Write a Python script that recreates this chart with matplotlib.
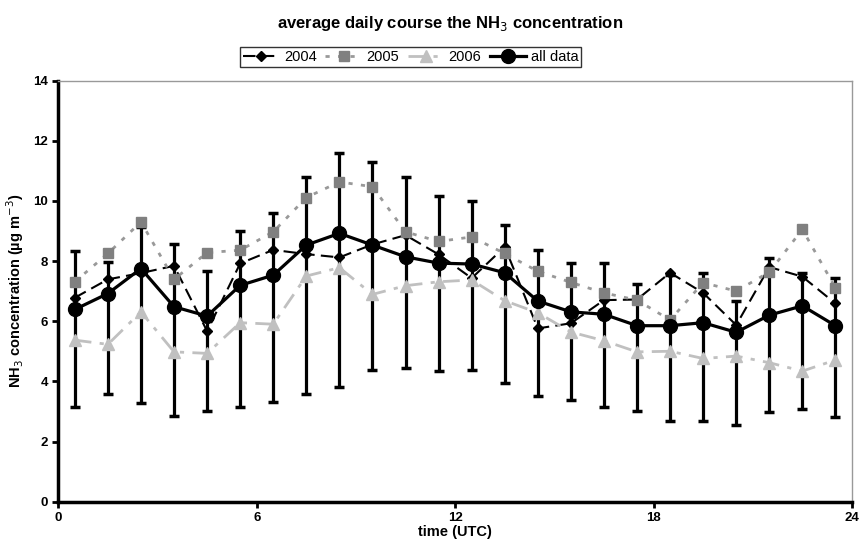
import matplotlib.pyplot as plt
import numpy as np

plt.rcParams['font.family'] = ['Liberation Sans', 'DejaVu Sans']

# hour of day (centre of each hourly bin)
hours = np.arange(24) + 0.5

nh3_2004 = [6.78, 7.39, 7.6, 7.84, 5.67, 7.92, 8.37, 8.23, 8.12, 8.55, 8.86, 8.22,
            7.43, 8.47, 5.76, 5.93, 6.7, 6.72, 7.61, 6.94, 5.87, 7.8, 7.48, 6.59]
nh3_2005 = [7.31, 8.25, 9.3, 7.39, 8.28, 8.36, 8.97, 10.11, 10.63, 10.47, 8.97, 8.65,
            8.8, 8.25, 7.66, 7.29, 6.94, 6.7, 6.04, 7.28, 7.0, 7.63, 9.05, 7.11]
nh3_2006 = [5.37, 5.23, 6.31, 4.98, 4.93, 5.95, 5.9, 7.5, 7.78, 6.89, 7.18, 7.31,
            7.37, 6.68, 6.28, 5.64, 5.35, 4.98, 5.0, 4.76, 4.84, 4.62, 4.34, 4.71]
nh3_all = [6.39, 6.92, 7.75, 6.48, 6.17, 7.19, 7.53, 8.53, 8.92, 8.53, 8.14, 7.93,
           7.9, 7.61, 6.67, 6.31, 6.23, 5.85, 5.85, 5.95, 5.63, 6.2, 6.51, 5.85]
# ends of the error bars
err_low = [3.15, 3.57, 3.28, 2.85, 3.0, 3.15, 3.33, 3.57, 3.8, 4.37, 4.45, 4.35,
           4.37, 3.95, 3.51, 3.37, 3.16, 3.02, 2.67, 2.67, 2.56, 2.97, 3.07, 2.81]
err_high = [8.34, 7.97, 9.13, 8.58, 7.67, 9.0, 9.58, 10.79, 11.6, 11.29, 10.78, 10.16,
            10.01, 9.19, 8.36, 7.94, 7.95, 7.23, 7.52, 7.61, 6.68, 8.09, 7.61, 7.45]

x_ticks = [0, 6, 12, 18, 24]
y_ticks = [0, 2, 4, 6, 8, 10, 12, 14]

fig = plt.figure(figsize=(8.61, 5.43), dpi=100)
ax = fig.add_axes([0.0677, 0.0761, 0.9218, 0.7756])

mean = np.array(nh3_all)
yerr = [mean - np.array(err_low), np.array(err_high) - mean]
ax.errorbar(hours, mean, yerr=yerr, fmt='none', ecolor='black', elinewidth=2.3,
            capsize=3.5, capthick=2.5, zorder=2)

ax.plot(hours, nh3_2004, color='black', linestyle=(0, (6, 3)), linewidth=1.5,
        marker='D', markersize=5, label='2004', zorder=3)
ax.plot(hours, nh3_2005, color='#999999', linestyle=(0, (1.5, 3)), linewidth=2,
        marker='s', markersize=7, markerfacecolor='#808080', markeredgecolor='#808080',
        label='2005', zorder=3)
ax.plot(hours, nh3_2006, color='#c0c0c0', linestyle=(0, (6, 3, 1.5, 3)), linewidth=2,
        marker='^', markersize=8, markerfacecolor='#c0c0c0', markeredgecolor='#c0c0c0',
        label='2006', zorder=3)
ax.plot(hours, nh3_all, color='black', linewidth=2.3, marker='o', markersize=10,
        label='all data', zorder=4)

ax.set_xlim(0, 24)
ax.set_ylim(0, 14)
ax.set_xticks(x_ticks)
ax.set_yticks(y_ticks)
ax.tick_params(direction='out', length=4, width=2, labelsize=9.5)
for lab in ax.get_xticklabels() + ax.get_yticklabels():
    lab.set_fontweight('bold')

for side in ['left', 'bottom']:
    ax.spines[side].set_linewidth(2.5)
for side in ['top', 'right']:
    ax.spines[side].set_linewidth(1)
    ax.spines[side].set_color('#999999')

ax.set_xlabel('time (UTC)', fontsize=10.5, fontweight='bold', labelpad=0.5)
ax.set_ylabel('NH$_3$ concentration (µg m$^{-3}$)', fontsize=10.5, fontweight='bold',
              labelpad=5)

fig.text(0.523, 0.957, 'average daily course the NH$_3$ concentration', ha='center',
         va='center', fontsize=12, fontweight='bold')

leg = fig.legend(loc='center', bbox_to_anchor=(0.477, 0.895), ncol=4, fontsize=10.5,
                 frameon=True, fancybox=False, edgecolor='black', handlelength=2.5,
                 handletextpad=0.3, columnspacing=0.6, borderpad=0.2)
leg.get_frame().set_linewidth(1)

fig.savefig('out.png', dpi=100)
